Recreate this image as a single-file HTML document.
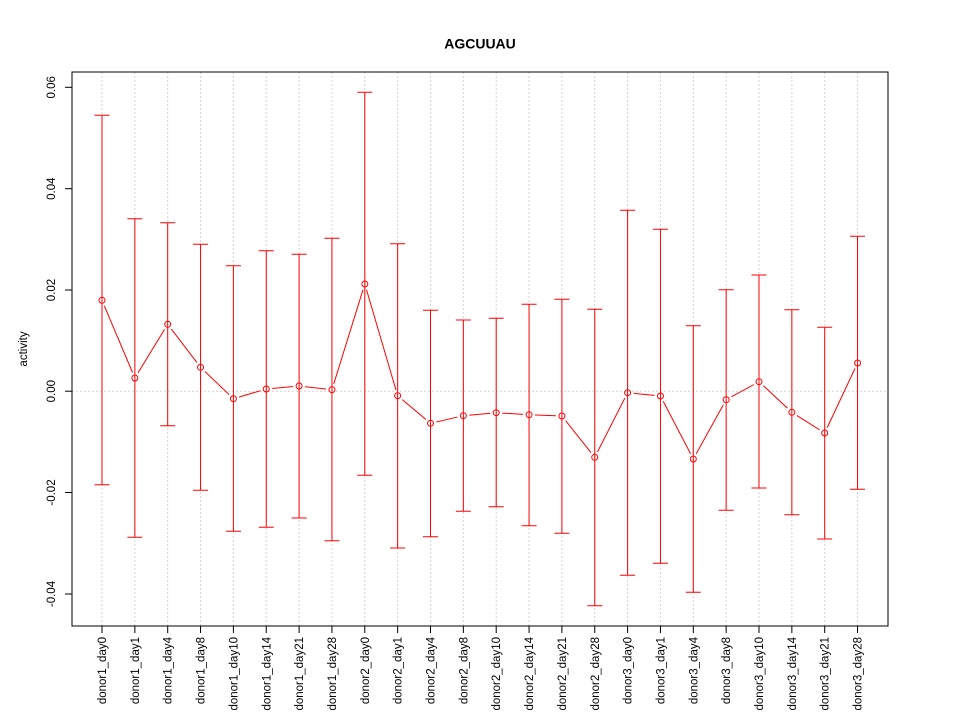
<!DOCTYPE html>
<html><head><meta charset="utf-8"><style>
html,body{margin:0;padding:0;background:#fff;}
svg{display:block;font-family:"Liberation Sans",Arial,sans-serif;}
</style></head><body>
<svg width="960" height="720" viewBox="0 0 960 720" xmlns="http://www.w3.org/2000/svg">
<defs>
<mask id="gap">
<rect x="0" y="0" width="960" height="720" fill="#fff"/>
<g fill="#000">
<circle cx="102" cy="300.3" r="6"/><circle cx="134.85" cy="378" r="6"/><circle cx="167.7" cy="324.3" r="6"/><circle cx="200.55" cy="367.3" r="6"/><circle cx="233.4" cy="398.7" r="6"/><circle cx="266.25" cy="389" r="6"/><circle cx="299.1" cy="386" r="6"/><circle cx="331.95" cy="389.7" r="6"/><circle cx="364.8" cy="284" r="6"/><circle cx="397.65" cy="395.7" r="6"/><circle cx="430.5" cy="423.3" r="6"/><circle cx="463.35" cy="415.7" r="6"/><circle cx="496.2" cy="412.7" r="6"/><circle cx="529.05" cy="414.7" r="6"/><circle cx="561.9" cy="416" r="6"/><circle cx="594.75" cy="457.3" r="6"/><circle cx="627.6" cy="392.7" r="6"/><circle cx="660.45" cy="396" r="6"/><circle cx="693.3" cy="459" r="6"/><circle cx="726.15" cy="399.7" r="6"/><circle cx="759" cy="381.7" r="6"/><circle cx="791.85" cy="412.3" r="6"/><circle cx="824.7" cy="433" r="6"/><circle cx="857.55" cy="363" r="6"/>
</g>
</mask>
</defs>

<!-- grid -->
<g stroke="#d3d3d3" stroke-width="1" stroke-dasharray="2,2">
<line x1="102" y1="72" x2="102" y2="626"/><line x1="134.85" y1="72" x2="134.85" y2="626"/><line x1="167.7" y1="72" x2="167.7" y2="626"/><line x1="200.55" y1="72" x2="200.55" y2="626"/><line x1="233.4" y1="72" x2="233.4" y2="626"/><line x1="266.25" y1="72" x2="266.25" y2="626"/><line x1="299.1" y1="72" x2="299.1" y2="626"/><line x1="331.95" y1="72" x2="331.95" y2="626"/><line x1="364.8" y1="72" x2="364.8" y2="626"/><line x1="397.65" y1="72" x2="397.65" y2="626"/><line x1="430.5" y1="72" x2="430.5" y2="626"/><line x1="463.35" y1="72" x2="463.35" y2="626"/><line x1="496.2" y1="72" x2="496.2" y2="626"/><line x1="529.05" y1="72" x2="529.05" y2="626"/><line x1="561.9" y1="72" x2="561.9" y2="626"/><line x1="594.75" y1="72" x2="594.75" y2="626"/><line x1="627.6" y1="72" x2="627.6" y2="626"/><line x1="660.45" y1="72" x2="660.45" y2="626"/><line x1="693.3" y1="72" x2="693.3" y2="626"/><line x1="726.15" y1="72" x2="726.15" y2="626"/><line x1="759" y1="72" x2="759" y2="626"/><line x1="791.85" y1="72" x2="791.85" y2="626"/><line x1="824.7" y1="72" x2="824.7" y2="626"/><line x1="857.55" y1="72" x2="857.55" y2="626"/>
<line x1="72" y1="391.2" x2="888" y2="391.2"/>
</g>

<!-- error bars -->
<g stroke="#ff0000" stroke-width="1" fill="none">
<path d="M102 115.3V484.7M94.5 115.3H109.5M94.5 484.7H109.5"/>
<path d="M134.85 218.7V537.3M127.35 218.7H142.35M127.35 537.3H142.35"/>
<path d="M167.7 222.7V425.7M160.2 222.7H175.2M160.2 425.7H175.2"/>
<path d="M200.55 244.3V490.3M193.05 244.3H208.05M193.05 490.3H208.05"/>
<path d="M233.4 265.7V531.3M225.9 265.7H240.9M225.9 531.3H240.9"/>
<path d="M266.25 250.7V527.3M258.75 250.7H273.75M258.75 527.3H273.75"/>
<path d="M299.1 254.3V518M291.6 254.3H306.6M291.6 518H306.6"/>
<path d="M331.95 238.3V540.7M324.45 238.3H339.45M324.45 540.7H339.45"/>
<path d="M364.8 92.3V475.3M357.3 92.3H372.3M357.3 475.3H372.3"/>
<path d="M397.65 243.7V548M390.15 243.7H405.15M390.15 548H405.15"/>
<path d="M430.5 310.3V536.7M423 310.3H438M423 536.7H438"/>
<path d="M463.35 320V511.3M455.85 320H470.85M455.85 511.3H470.85"/>
<path d="M496.2 318.3V506.7M488.7 318.3H503.7M488.7 506.7H503.7"/>
<path d="M529.05 304.3V525.7M521.55 304.3H536.55M521.55 525.7H536.55"/>
<path d="M561.9 299.3V533.3M554.4 299.3H569.4M554.4 533.3H569.4"/>
<path d="M594.75 309.3V605.7M587.25 309.3H602.25M587.25 605.7H602.25"/>
<path d="M627.6 210.3V575.3M620.1 210.3H635.1M620.1 575.3H635.1"/>
<path d="M660.45 229.3V563.3M652.95 229.3H667.95M652.95 563.3H667.95"/>
<path d="M693.3 325.7V592.3M685.8 325.7H700.8M685.8 592.3H700.8"/>
<path d="M726.15 289.7V510.3M718.65 289.7H733.65M718.65 510.3H733.65"/>
<path d="M759 275V488M751.5 275H766.5M751.5 488H766.5"/>
<path d="M791.85 309.7V514.7M784.35 309.7H799.35M784.35 514.7H799.35"/>
<path d="M824.7 327.3V539M817.2 327.3H832.2M817.2 539H832.2"/>
<path d="M857.55 236.3V489.3M850.05 236.3H865.05M850.05 489.3H865.05"/>
</g>

<!-- connecting line -->
<polyline mask="url(#gap)" fill="none" stroke="#ff0000" stroke-width="1" points="102,300.3 134.85,378 167.7,324.3 200.55,367.3 233.4,398.7 266.25,389 299.1,386 331.95,389.7 364.8,284 397.65,395.7 430.5,423.3 463.35,415.7 496.2,412.7 529.05,414.7 561.9,416 594.75,457.3 627.6,392.7 660.45,396 693.3,459 726.15,399.7 759,381.7 791.85,412.3 824.7,433 857.55,363"/>

<!-- points -->
<g fill="none" stroke="#ff0000" stroke-width="1">
<circle cx="102" cy="300.3" r="3"/><circle cx="134.85" cy="378" r="3"/><circle cx="167.7" cy="324.3" r="3"/><circle cx="200.55" cy="367.3" r="3"/><circle cx="233.4" cy="398.7" r="3"/><circle cx="266.25" cy="389" r="3"/><circle cx="299.1" cy="386" r="3"/><circle cx="331.95" cy="389.7" r="3"/><circle cx="364.8" cy="284" r="3"/><circle cx="397.65" cy="395.7" r="3"/><circle cx="430.5" cy="423.3" r="3"/><circle cx="463.35" cy="415.7" r="3"/><circle cx="496.2" cy="412.7" r="3"/><circle cx="529.05" cy="414.7" r="3"/><circle cx="561.9" cy="416" r="3"/><circle cx="594.75" cy="457.3" r="3"/><circle cx="627.6" cy="392.7" r="3"/><circle cx="660.45" cy="396" r="3"/><circle cx="693.3" cy="459" r="3"/><circle cx="726.15" cy="399.7" r="3"/><circle cx="759" cy="381.7" r="3"/><circle cx="791.85" cy="412.3" r="3"/><circle cx="824.7" cy="433" r="3"/><circle cx="857.55" cy="363" r="3"/>
</g>

<!-- box & axes -->
<rect x="72" y="72" width="816" height="554" fill="none" stroke="#000" stroke-width="1"/>
<g stroke="#000" stroke-width="1">
<line x1="72" y1="87.3" x2="72" y2="594"/>
<line x1="65" y1="87.3" x2="72" y2="87.3"/>
<line x1="65" y1="188.7" x2="72" y2="188.7"/>
<line x1="65" y1="290" x2="72" y2="290"/>
<line x1="65" y1="391.2" x2="72" y2="391.2"/>
<line x1="65" y1="492.5" x2="72" y2="492.5"/>
<line x1="65" y1="594" x2="72" y2="594"/>
<line x1="102" y1="626" x2="857.55" y2="626"/>
<path d="M102 626v7M134.85 626v7M167.7 626v7M200.55 626v7M233.4 626v7M266.25 626v7M299.1 626v7M331.95 626v7M364.8 626v7M397.65 626v7M430.5 626v7M463.35 626v7M496.2 626v7M529.05 626v7M561.9 626v7M594.75 626v7M627.6 626v7M660.45 626v7M693.3 626v7M726.15 626v7M759 626v7M791.85 626v7M824.7 626v7M857.55 626v7"/>
</g>

<!-- y tick labels -->
<g font-size="11.5" fill="#000" text-anchor="middle">
<text transform="translate(55,87.3) rotate(-90)">0.06</text>
<text transform="translate(55,188.7) rotate(-90)">0.04</text>
<text transform="translate(55,290) rotate(-90)">0.02</text>
<text transform="translate(55,391.2) rotate(-90)">0.00</text>
<text transform="translate(55,492.5) rotate(-90)">-0.02</text>
<text transform="translate(55,594) rotate(-90)">-0.04</text>
</g>

<!-- x tick labels -->
<g font-size="11.5" fill="#000" text-anchor="end">
<text transform="translate(106,637) rotate(-90)">donor1_day0</text>
<text transform="translate(138.85,637) rotate(-90)">donor1_day1</text>
<text transform="translate(171.7,637) rotate(-90)">donor1_day4</text>
<text transform="translate(204.55,637) rotate(-90)">donor1_day8</text>
<text transform="translate(237.4,637) rotate(-90)">donor1_day10</text>
<text transform="translate(270.25,637) rotate(-90)">donor1_day14</text>
<text transform="translate(303.1,637) rotate(-90)">donor1_day21</text>
<text transform="translate(335.95,637) rotate(-90)">donor1_day28</text>
<text transform="translate(368.8,637) rotate(-90)">donor2_day0</text>
<text transform="translate(401.65,637) rotate(-90)">donor2_day1</text>
<text transform="translate(434.5,637) rotate(-90)">donor2_day4</text>
<text transform="translate(467.35,637) rotate(-90)">donor2_day8</text>
<text transform="translate(500.2,637) rotate(-90)">donor2_day10</text>
<text transform="translate(533.05,637) rotate(-90)">donor2_day14</text>
<text transform="translate(565.9,637) rotate(-90)">donor2_day21</text>
<text transform="translate(598.75,637) rotate(-90)">donor2_day28</text>
<text transform="translate(631.6,637) rotate(-90)">donor3_day0</text>
<text transform="translate(664.45,637) rotate(-90)">donor3_day1</text>
<text transform="translate(697.3,637) rotate(-90)">donor3_day4</text>
<text transform="translate(730.15,637) rotate(-90)">donor3_day8</text>
<text transform="translate(763,637) rotate(-90)">donor3_day10</text>
<text transform="translate(795.85,637) rotate(-90)">donor3_day14</text>
<text transform="translate(828.7,637) rotate(-90)">donor3_day21</text>
<text transform="translate(861.55,637) rotate(-90)">donor3_day28</text>
</g>

<!-- axis title -->
<text transform="translate(27,349) rotate(-90)" font-size="11.5" text-anchor="middle" fill="#000">activity</text>

<!-- main title -->
<text x="480" y="48.5" font-size="14" font-weight="bold" text-anchor="middle" fill="#000">AGCUUAU</text>
</svg>
</body></html>
